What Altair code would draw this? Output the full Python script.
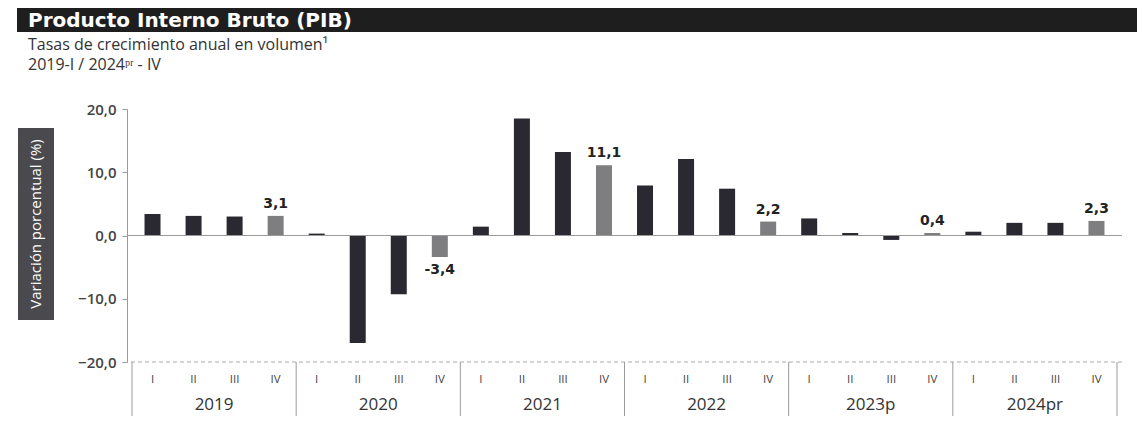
import altair as alt
import pandas as pd

years = ["2019", "2020", "2021", "2022", "2023p", "2024pr"]
quarters = ["I", "II", "III", "IV"]
values = [3.4, 3.1, 3.0, 3.1,
          0.3, -17.0, -9.3, -3.4,
          1.4, 18.5, 13.2, 11.1,
          7.9, 12.1, 7.4, 2.2,
          2.7, 0.4, -0.7, 0.4,
          0.6, 2.0, 2.0, 2.3]

rows = []
for i, v in enumerate(values):
    q = quarters[i % 4]
    rows.append({"idx": i, "year": years[i // 4], "quarter": q, "value": v,
                 "kind": "q4" if q == "IV" else "other",
                 "label": f"{v:.1f}".replace(".", ",")})
df = pd.DataFrame(rows)

year_df = pd.DataFrame({"year": years, "pos": [i * 4 + 1.5 for i in range(len(years))]})
sep_df = pd.DataFrame({"pos": [i * 4 - 0.5 for i in range(len(years) + 1)]})

W, H = 995, 253
xs = alt.Scale(domain=[-0.5, 23.5], nice=False, zero=False)
ys = alt.Scale(domain=[-20, 20], nice=False)

yaxis = alt.Axis(
    values=[-20, -10, 0, 10, 20], title=None, grid=False,
    labelExpr="replace(format(datum.value, '.1f'), '.', ',')",
    labelFont="Open Sans", labelFontSize=15, labelFontWeight=600,
    labelColor="#444444", domainColor="#9a9a9a", tickColor="#9a9a9a",
    tickSize=5, labelPadding=6)

def X(f):
    return alt.X(f, scale=xs, axis=None)

def Y(f):
    return alt.Y(f, scale=ys, axis=yaxis)

base = alt.Chart(df)

bars = base.mark_bar(width=16).encode(
    x=X("idx:Q"),
    y=Y("value:Q"),
    color=alt.Color("kind:N", scale=alt.Scale(domain=["other", "q4"], range=["#2a2830", "#7e7e80"]), legend=None),
)

zero = alt.Chart(pd.DataFrame({"v": [0]})).mark_rule(color="#9a9a9a", strokeWidth=1.2).encode(
    y=Y("v:Q"))
bottom = alt.Chart(pd.DataFrame({"v": [-20]})).mark_rule(color="#aaaaaa", strokeDash=[4, 3]).encode(
    y=Y("v:Q"))

pos_lab = base.transform_filter("datum.kind == 'q4' && datum.value >= 0").mark_text(
    baseline="bottom", dy=-5, font="DejaVu Sans", fontSize=14, fontWeight="bold", color="#222222"
).encode(x=X("idx:Q"), y=Y("value:Q"), text="label:N")
neg_lab = base.transform_filter("datum.kind == 'q4' && datum.value < 0").mark_text(
    baseline="top", dy=6, font="DejaVu Sans", fontSize=14, fontWeight="bold", color="#222222"
).encode(x=X("idx:Q"), y=Y("value:Q"), text="label:N")

qlab = base.mark_text(baseline="middle", font="Open Sans", fontSize=11.5, color="#444444").encode(
    x=X("idx:Q"), y=alt.value(H + 18), text="quarter:N")
ylab = alt.Chart(year_df).mark_text(baseline="middle", font="Open Sans", fontSize=17, color="#333333").encode(
    x=X("pos:Q"), y=alt.value(H + 43), text="year:N")
seps = alt.Chart(sep_df).mark_rule(color="#9a9a9a").encode(
    x=X("pos:Q"), y=alt.value(H), y2=alt.value(H + 54))

title_bar = alt.Chart(pd.DataFrame({"a": [1]})).mark_rule(color="#1e1e1e", strokeWidth=24).encode(
    x=alt.value(-110), x2=alt.value(W + 20), y=alt.value(-89))
ybox = alt.Chart(pd.DataFrame({"a": [1]})).mark_rule(color="#4a4a4e", strokeWidth=36).encode(
    x=alt.value(-91), y=alt.value(19), y2=alt.value(211))

def txt(s, x, y, font="Open Sans", **kw):
    return alt.Chart(pd.DataFrame({"t": [s]})).mark_text(font=font, **kw).encode(
        x=alt.value(x), y=alt.value(y), text="t:N")

title_txt = txt("Producto Interno Bruto (PIB)", -99, -88, font="DejaVu Sans", align="left",
                baseline="middle", fontSize=20, fontWeight="bold", color="#ffffff")
sub1 = txt("Tasas de crecimiento anual en volumen¹", -99, -64, align="left", baseline="middle",
           fontSize=16, color="#333333")
sub2 = txt("2019-I / 2024ᵖʳ - IV", -99, -44, align="left", baseline="middle",
           fontSize=16, color="#333333")
ytxt = txt("Variación porcentual (%)", -91, 115, angle=270, align="center", baseline="middle",
           fontSize=15, color="#ffffff")

chart = alt.layer(
    bars, bottom, seps, zero, pos_lab, neg_lab, qlab, ylab,
    title_bar, title_txt, sub1, sub2, ybox, ytxt,
).properties(
    width=W, height=H,
    autosize=alt.AutoSizeParams(type="none"),
    padding={"left": 119, "top": 101, "right": 15, "bottom": 66},
    background="#ffffff"
).configure_view(stroke=None)

chart.save("out.html", embed_options={"renderer": "svg", "actions": False})
